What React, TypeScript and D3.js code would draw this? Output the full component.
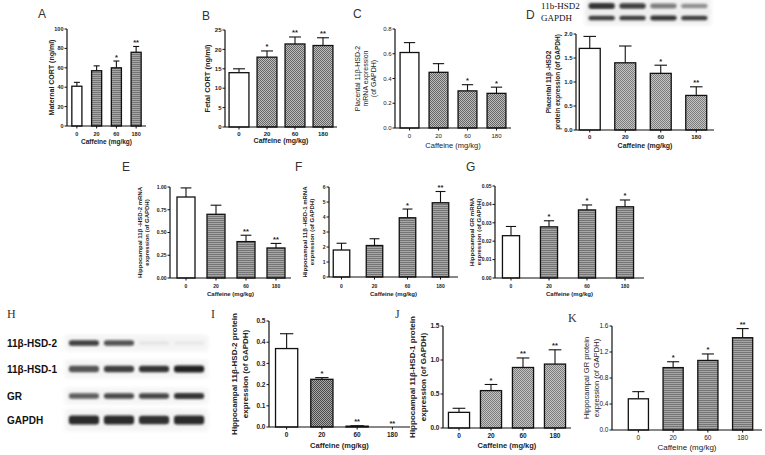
import React from "react";
import * as d3 from "d3";

const doses = ["0", "20", "60", "180"];

// A: maternal serum CORT (ng/ml)
const maternalCort = [41, 57, 60, 76];
const maternalCortErr = [4, 5, 7, 6];
const maternalCortSig = ["", "", "*", "**"];
// B: fetal serum CORT (ng/ml)
const fetalCort = [14, 18, 21.4, 21];
const fetalCortErr = [1, 1.6, 1.8, 2];
const fetalCortSig = ["", "*", "**", "**"];
// C: placental 11b-HSD-2 mRNA
const placHsd2Mrna = [0.61, 0.45, 0.3, 0.28];
const placHsd2MrnaErr = [0.08, 0.07, 0.05, 0.05];
const placHsd2MrnaSig = ["", "", "*", "*"];
// D: placental 11b-HSD2 protein
const placHsd2Prot = [1.7, 1.4, 1.18, 0.72];
const placHsd2ProtErr = [0.25, 0.35, 0.17, 0.18];
const placHsd2ProtSig = ["", "", "*", "**"];
// E: hippocampal 11b-HSD-2 mRNA
const hipHsd2Mrna = [0.89, 0.7, 0.4, 0.33];
const hipHsd2MrnaErr = [0.1, 0.1, 0.07, 0.05];
const hipHsd2MrnaSig = ["", "", "**", "**"];
// F: hippocampal 11b-HSD-1 mRNA
const hipHsd1Mrna = [1.8, 2.1, 3.95, 4.95];
const hipHsd1MrnaErr = [0.45, 0.45, 0.58, 0.75];
const hipHsd1MrnaSig = ["", "", "*", "**"];
// G: hippocampal GR mRNA
const hipGrMrna = [0.023, 0.0278, 0.037, 0.0387];
const hipGrMrnaErr = [0.005, 0.0033, 0.0027, 0.0037];
const hipGrMrnaSig = ["", "*", "*", "*"];
// I: hippocampal 11b-HSD-2 protein
const hipHsd2Prot = [0.37, 0.225, 0.004, 0];
const hipHsd2ProtErr = [0.07, 0.008, 0.002, 0];
const hipHsd2ProtSig = ["", "*", "**", "**"];
// J: hippocampal 11b-HSD-1 protein
const hipHsd1Prot = [0.23, 0.55, 0.89, 0.94];
const hipHsd1ProtErr = [0.06, 0.09, 0.14, 0.21];
const hipHsd1ProtSig = ["", "*", "**", "**"];
// K: hippocampal GR protein
const hipGrProt = [0.48, 0.96, 1.07, 1.42];
const hipGrProtErr = [0.11, 0.09, 0.1, 0.14];
const hipGrProtSig = ["", "*", "*", "**"];

const ticksA = [0, 20, 40, 60, 80, 100];
const ticksB = [0, 5, 10, 15, 20, 25];
const ticksC = [0, 0.2, 0.4, 0.6, 0.8];
const ticksD = [0, 0.5, 1, 1.5, 2];
const ticksE = [0, 0.25, 0.5, 0.75, 1];
const ticksF = [0, 1, 2, 3, 4, 5, 6];
const ticksG = [0, 0.01, 0.02, 0.03, 0.04, 0.05];
const ticksI = [0, 0.1, 0.2, 0.3, 0.4, 0.5];
const ticksJ = [0, 0.5, 1, 1.5];
const ticksK = [0, 0.4, 0.8, 1.2, 1.6];

// western blot band intensities per lane (0, 20, 60, 180)
const blotRows = ["11β-HSD-2", "11β-HSD-1", "GR", "GAPDH"];
const bandHsd2 = [0.85, 0.75, 0.06, 0.04];
const bandHsd1 = [0.75, 0.85, 0.9, 1];
const bandGr = [0.7, 0.8, 0.82, 0.9];
const bandGapdh = [0.95, 0.95, 0.92, 0.95];
const placBlotRows = ["11b-HSD2", "GAPDH"];
const placBandHsd2 = [0.9, 0.85, 0.55, 0.45];
const placBandGapdh = [0.85, 0.85, 0.9, 0.85];

const SANS = "'Liberation Sans', Arial, sans-serif";
const SERIF = "'Liberation Serif', 'Times New Roman', serif";

type Panel = {
  letter: string; lx: number; ly: number; serif?: boolean;
  values: number[]; errs: number[]; sig: string[]; ticks: number[]; fmt: (v: number) => string;
  max: number; x0: number; x1: number; bx0: number; bx1: number; pad: number;
  yTop: number; yBot: number; ylab: string[]; ylabX: number[];
  xlabY: number; tickY: number; fs: number; lfs: number; xfs: number; bold: boolean; fill: string;
};

const panels: Panel[] = [
  { letter: "A", lx: 38, ly: 18, values: maternalCort, errs: maternalCortErr, sig: maternalCortSig, ticks: ticksA, fmt: d3.format("d"),
    max: 100, x0: 67, x1: 146, bx0: 67, bx1: 146, pad: 0.49, yTop: 29, yBot: 126, ylab: ["Maternal CORT (ng/ml)"], ylabX: [54],
    xlabY: 144, tickY: 136, fs: 5.5, lfs: 7, xfs: 6.5, bold: true, fill: "url(#hl)" },
  { letter: "B", lx: 202, ly: 20, values: fetalCort, errs: fetalCortErr, sig: fetalCortSig, ticks: ticksB, fmt: d3.format("d"),
    max: 25, x0: 225, x1: 337, bx0: 225, bx1: 337, pad: 0.29, yTop: 30, yBot: 127, ylab: ["Fetal CORT (ng/ml)"], ylabX: [210],
    xlabY: 143, tickY: 136, fs: 6, lfs: 7.5, xfs: 7, bold: true, fill: "url(#ck)" },
  { letter: "C", lx: 353, ly: 18, values: placHsd2Mrna, errs: placHsd2MrnaErr, sig: placHsd2MrnaSig, ticks: ticksC, fmt: d3.format(".1f"),
    max: 0.8, x0: 395, x1: 511, bx0: 395, bx1: 511, pad: 0.35, yTop: 29, yBot: 128, ylab: ["Placental 11β-HSD-2", "mRNA expression", "(of GAPDH)"],
    ylabX: [360, 368, 376], xlabY: 148, tickY: 138, fs: 6, lfs: 7, xfs: 7.5, bold: false, fill: "url(#ck)" },
  { letter: "D", lx: 526, ly: 19, values: placHsd2Prot, errs: placHsd2ProtErr, sig: placHsd2ProtSig, ticks: ticksD, fmt: d3.format(".1f"),
    max: 2, x0: 576, x1: 714, bx0: 572, bx1: 714, pad: 0.41, yTop: 34, yBot: 130, ylab: ["Placental 11β -HSD2", "protein expression (of GAPDH)"],
    ylabX: [551, 560], xlabY: 148, tickY: 139, fs: 6, lfs: 6.5, xfs: 7, bold: true, fill: "url(#ckl)" },
  { letter: "E", lx: 122, ly: 171, values: hipHsd2Mrna, errs: hipHsd2MrnaErr, sig: hipHsd2MrnaSig, ticks: ticksE, fmt: d3.format(".2f"),
    max: 1, x0: 170, x1: 291, bx0: 171, bx1: 291, pad: 0.4, yTop: 187, yBot: 278, ylab: ["Hippocampal 11β -HSD-2 mRNA", "expression (of GAPDH)"],
    ylabX: [142, 149], xlabY: 296, tickY: 288, fs: 5, lfs: 6, xfs: 6, bold: true, fill: "url(#hl)" },
  { letter: "F", lx: 295, ly: 171, values: hipHsd1Mrna, errs: hipHsd1MrnaErr, sig: hipHsd1MrnaSig, ticks: ticksF, fmt: d3.format("d"),
    max: 6, x0: 329, x1: 458, bx0: 325, bx1: 457, pad: 0.5, yTop: 187, yBot: 277, ylab: ["Hippocampal 11β -HSD-1 mRNA", "expression (of GAPDH)"],
    ylabX: [307, 314], xlabY: 296, tickY: 288, fs: 5, lfs: 6, xfs: 6, bold: true, fill: "url(#hl)" },
  { letter: "G", lx: 466, ly: 171, values: hipGrMrna, errs: hipGrMrnaErr, sig: hipGrMrnaSig, ticks: ticksG, fmt: d3.format(".2f"),
    max: 0.05, x0: 495, x1: 644, bx0: 492, bx1: 644, pad: 0.55, yTop: 186, yBot: 278, ylab: ["Hippocampal GR mRNA", "expression (of GAPDH)"],
    ylabX: [474, 481], xlabY: 296, tickY: 288, fs: 5, lfs: 6, xfs: 6, bold: true, fill: "url(#hl)" },
  { letter: "I", lx: 211, ly: 318, serif: true, values: hipHsd2Prot, errs: hipHsd2ProtErr, sig: hipHsd2ProtSig, ticks: ticksI, fmt: d3.format(".1f"),
    max: 0.5, x0: 269, x1: 410, bx0: 269, bx1: 410, pad: 0.37, yTop: 321, yBot: 427, ylab: ["Hippocampal 11β-HSD-2 protein", "expression (of GAPDH)"],
    ylabX: [237, 248], xlabY: 448, tickY: 437, fs: 6.5, lfs: 8, xfs: 7.5, bold: true, fill: "url(#ckd)" },
  { letter: "J", lx: 395, ly: 318, serif: true, values: hipHsd1Prot, errs: hipHsd1ProtErr, sig: hipHsd1ProtSig, ticks: ticksJ, fmt: d3.format(".1f"),
    max: 1.5, x0: 443, x1: 571, bx0: 443, bx1: 571, pad: 0.34, yTop: 326, yBot: 428, ylab: ["Hippocampal 11β-HSD-1 protein", "expression (of GAPDH)"],
    ylabX: [415, 426], xlabY: 448, tickY: 438, fs: 6.5, lfs: 8, xfs: 7.5, bold: true, fill: "url(#ckl)" },
  { letter: "K", lx: 568, ly: 322, serif: true, values: hipGrProt, errs: hipGrProtErr, sig: hipGrProtSig, ticks: ticksK, fmt: d3.format(".1f"),
    max: 1.6, x0: 612, x1: 762, bx0: 621, bx1: 760, pad: 0.42, yTop: 326, yBot: 430, ylab: ["Hippocampal GR protein", "expression (of GAPDH)"],
    ylabX: [589, 599], xlabY: 450, tickY: 440, fs: 6.5, lfs: 7.5, xfs: 8, bold: false, fill: "url(#hl)" },
];

function BarPanel({ p }: { p: Panel }) {
  const x = d3.scaleBand<string>().domain(doses).range([p.bx0, p.bx1]).paddingInner(p.pad).paddingOuter(p.pad / 2);
  const y = d3.scaleLinear().domain([0, p.max]).range([p.yBot, p.yTop]);
  const bw = x.bandwidth();
  const w = p.bold ? 700 : 400;
  const midY = (p.yTop + p.yBot) / 2;
  return (
    <g fontFamily={SANS} fill="#222">
      <text x={p.lx} y={p.ly} fontSize={12} fontFamily={p.serif ? SERIF : SANS} fill="#333">{p.letter}</text>
      {p.ylab.map((t, i) => (
        <text key={t} transform={`translate(${p.ylabX[i]},${midY}) rotate(-90)`} textAnchor="middle"
          fontSize={p.lfs} fontWeight={w}>{t}</text>
      ))}
      {p.values.map((v, i) => {
        const cx = (x(doses[i]) || 0) + bw / 2;
        const top = y(v + p.errs[i]);
        return (
          <g key={i}>
            {p.errs[i] > 0 && (
              <g stroke="#111" strokeWidth={1.1}>
                <line x1={cx} x2={cx} y1={y(v)} y2={top} />
                <line x1={cx - bw * 0.3} x2={cx + bw * 0.3} y1={top} y2={top} />
              </g>
            )}
            <rect x={x(doses[i])} y={y(v)} width={bw} height={Math.max(0, p.yBot - y(v))}
              fill={i === 0 ? "#fff" : p.fill} stroke="#111" strokeWidth={1.3} />
            {p.sig[i] && (
              <text x={cx} y={top - 1.5} textAnchor="middle" fontSize={7.5} fontWeight={700}>{p.sig[i]}</text>
            )}
          </g>
        );
      })}
      <line x1={p.x0} x2={p.x0} y1={p.yTop} y2={p.yBot} stroke="#111" strokeWidth={1.2} />
      <line x1={p.x0} x2={p.x1} y1={p.yBot} y2={p.yBot} stroke="#111" strokeWidth={1.2} />
      {p.ticks.map((t) => (
        <g key={t}>
          <line x1={p.x0 - 2.5} x2={p.x0} y1={y(t)} y2={y(t)} stroke="#111" strokeWidth={1} />
          <text x={p.x0 - 3.5} y={y(t)} dy="0.35em" textAnchor="end" fontSize={p.fs} fontWeight={w}>{p.fmt(t)}</text>
        </g>
      ))}
      {doses.map((d) => (
        <g key={d}>
          <line x1={(x(d) || 0) + bw / 2} x2={(x(d) || 0) + bw / 2} y1={p.yBot} y2={p.yBot + 2.5} stroke="#111" strokeWidth={1} />
          <text x={(x(d) || 0) + bw / 2} y={p.tickY} textAnchor="middle" fontSize={p.fs} fontWeight={w}>{d}</text>
        </g>
      ))}
      <text x={(p.x0 + p.x1) / 2} y={p.xlabY} textAnchor="middle" fontSize={p.xfs} fontWeight={w}>Caffeine (mg/kg)</text>
    </g>
  );
}

type Blot = {
  rows: string[]; bands: number[][]; lx: number; labelFont: string; labelSize: number; labelWeight: number;
  lane0: number; lane1: number; rowY: number[]; rowH: number[]; bg: string;
};

const blots: Blot[] = [
  { rows: blotRows, bands: [bandHsd2, bandHsd1, bandGr, bandGapdh], lx: 7, labelFont: SANS, labelSize: 10, labelWeight: 700,
    lane0: 65, lane1: 208, rowY: [343, 369, 396, 420], rowH: [6, 7, 6, 9], bg: "#ececec" },
  { rows: placBlotRows, bands: [placBandHsd2, placBandGapdh], lx: 541, labelFont: SERIF, labelSize: 9, labelWeight: 400,
    lane0: 585, lane1: 711, rowY: [6, 18], rowH: [6, 5], bg: "#e6e6e6" },
];

function BlotPanel({ b }: { b: Blot }) {
  const lanes = d3.scaleBand<string>().domain(doses).range([b.lane0, b.lane1]).padding(0.08);
  const op = d3.scaleLinear().domain([0, 1]).range([0, 0.95]);
  return (
    <g>
      {b.rows.map((r, ri) => (
        <g key={r}>
          <text x={b.lx} y={b.rowY[ri]} dy="0.35em" fontFamily={b.labelFont} fontSize={b.labelSize}
            fontWeight={b.labelWeight} fill="#111">{r}</text>
          <rect x={b.lane0} y={b.rowY[ri] - b.rowH[ri] - 2} width={b.lane1 - b.lane0} height={b.rowH[ri] * 2 + 4}
            fill={b.bg} opacity={0.6} filter="url(#soft)" />
          {b.bands[ri].map((v, li) => (
            <rect key={li} x={(lanes(doses[li]) || 0) + 1} width={lanes.bandwidth() - 2}
              y={b.rowY[ri] - (b.rowH[ri] * (0.6 + 0.4 * v)) / 2} height={b.rowH[ri] * (0.6 + 0.4 * v)}
              rx={3} fill="#151515" opacity={op(v)} filter="url(#blur)" />
          ))}
        </g>
      ))}
    </g>
  );
}

export default function App() {
  return (
    <svg width={765} height={455} style={{ position: "absolute", left: 0, top: 0, background: "#fff" }}>
      <defs>
        <pattern id="hl" width={3} height={2} patternUnits="userSpaceOnUse">
          <rect width={3} height={2} fill="#a6a6a6" />
          <rect width={3} height={1} fill="#767676" />
        </pattern>
        <pattern id="ck" width={2} height={2} patternUnits="userSpaceOnUse">
          <rect width={2} height={2} fill="#bdbdbd" />
          <rect width={1} height={1} fill="#666" />
          <rect x={1} y={1} width={1} height={1} fill="#666" />
        </pattern>
        <pattern id="ckd" width={2} height={2} patternUnits="userSpaceOnUse">
          <rect width={2} height={2} fill="#a8a8a8" />
          <rect width={1} height={1} fill="#4a4a4a" />
          <rect x={1} y={1} width={1} height={1} fill="#4a4a4a" />
        </pattern>
        <pattern id="ckl" width={2} height={2} patternUnits="userSpaceOnUse">
          <rect width={2} height={2} fill="#c4c4c4" />
          <rect width={1} height={1} fill="#7c7c7c" />
          <rect x={1} y={1} width={1} height={1} fill="#7c7c7c" />
        </pattern>
        <filter id="blur" x="-20%" y="-60%" width="140%" height="220%">
          <feGaussianBlur stdDeviation={1.1} />
        </filter>
        <filter id="soft">
          <feGaussianBlur stdDeviation={2} />
        </filter>
      </defs>
      {blots.map((b, i) => <BlotPanel key={i} b={b} />)}
      <text x={7} y={318} fontFamily={SERIF} fontSize={12} fill="#333">H</text>
      {panels.map((p) => <BarPanel key={p.letter} p={p} />)}
    </svg>
  );
}
